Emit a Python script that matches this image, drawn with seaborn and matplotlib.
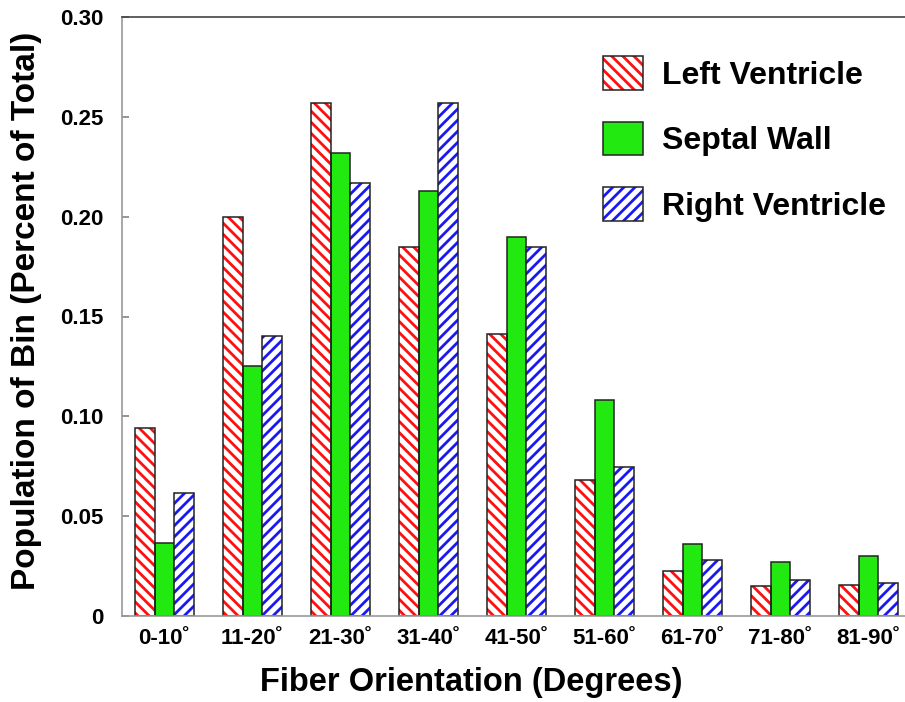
import matplotlib
matplotlib.use("Agg")
import matplotlib.pyplot as plt
import seaborn as sns
import pandas as pd
from matplotlib.patches import Rectangle, Patch

categories = ["0-10˚", "11-20˚", "21-30˚", "31-40˚", "41-50˚",
              "51-60˚", "61-70˚", "71-80˚", "81-90˚"]
left_ventricle = [0.094, 0.200, 0.257, 0.185, 0.141, 0.068, 0.0225, 0.015, 0.0155]
septal_wall = [0.0365, 0.125, 0.232, 0.213, 0.190, 0.108, 0.036, 0.027, 0.030]
right_ventricle = [0.0615, 0.140, 0.217, 0.257, 0.185, 0.0745, 0.028, 0.018, 0.0165]
series_names = ["Left Ventricle", "Septal Wall", "Right Ventricle"]
y_ticks = [0, 0.05, 0.10, 0.15, 0.20, 0.25, 0.30]
y_tick_labels = ["0", "0.05", "0.10", "0.15", "0.20", "0.25", "0.30"]

rows = []
for name, vals in zip(series_names, [left_ventricle, septal_wall, right_ventricle]):
    for c, v in zip(categories, vals):
        rows.append({"cat": c, "series": name, "value": v})
df = pd.DataFrame(rows)

sns.set_theme(style="white")
plt.rcParams["font.family"] = ["Liberation Sans", "DejaVu Sans"]
plt.rcParams["font.weight"] = "bold"
plt.rcParams["hatch.linewidth"] = 2.0
plt.rcParams["text.color"] = "black"
plt.rcParams["axes.labelcolor"] = "black"
plt.rcParams["xtick.color"] = "black"
plt.rcParams["ytick.color"] = "black"

RED = "#FF1010"
GREEN = "#22EA11"
BLUE = "#1A1AF0"
styles = [
    dict(face="white", hatch="\\\\\\", hcolor=RED),
    dict(face=GREEN, hatch=None, hcolor=None),
    dict(face="white", hatch="///", hcolor=BLUE),
]

fig = plt.figure(figsize=(9.05, 7.02), dpi=100)
ax = fig.add_axes([122 / 905, 1 - 616 / 702, 1 - 122 / 905, (616 - 17) / 702])

sns.barplot(data=df, x="cat", y="value", hue="series", order=categories,
            hue_order=series_names, palette=[GREEN] * 3, width=0.67, gap=0,
            saturation=1, legend=False, ax=ax, errorbar=None)

for cont, st in zip(ax.containers, styles):
    for p in cont.patches:
        if st["hatch"]:
            p.set_facecolor("white")
            p.set_hatch(st["hatch"])
            p.set_edgecolor(st["hcolor"])
            p.set_linewidth(0)
            ax.add_patch(Rectangle(p.get_xy(), p.get_width(), p.get_height(),
                                   fill=False, edgecolor="#222222", linewidth=1.1, zorder=p.get_zorder() + 0.1))
        else:
            p.set_facecolor(st["face"])
            p.set_edgecolor("#222222")
            p.set_linewidth(1.1)

ax.set_xlim(-0.483, 8.415)
ax.set_ylim(0, 0.30)
ax.set_yticks(y_ticks)
ax.set_yticklabels(y_tick_labels, fontsize=16, fontweight="bold")
ax.set_xticks(range(len(categories)))
ax.set_xticklabels(categories, fontsize=16, fontweight="bold")
ax.tick_params(axis="y", direction="in", length=5, color="#888888", labelcolor="black", pad=13, left=True)
ax.tick_params(axis="x", length=0, pad=9, labelcolor="black")
for s in ["left", "bottom"]:
    ax.spines[s].set_color("#999999")
    ax.spines[s].set_linewidth(1.2)
ax.spines["top"].set_color("#444444")
ax.spines["top"].set_linewidth(1.2)
ax.spines["right"].set_visible(False)

ax.set_xlabel("Fiber Orientation (Degrees)", fontsize=23.5, fontweight="bold", color="black")
ax.xaxis.set_label_coords((471 - 122) / 783, -(683 - 616) / 599, transform=ax.transAxes)
ax.xaxis.label.set_va("center")
ax.set_ylabel("Population of Bin (Percent of Total)", fontsize=24, fontweight="bold", color="black")
ax.yaxis.set_label_coords(-(122 - 27) / 783, (616 - 311) / 599, transform=ax.transAxes)
ax.yaxis.label.set_va("center")

handles = []
for st in styles:
    if st["hatch"]:
        h = (Patch(facecolor="white", hatch=st["hatch"], edgecolor=st["hcolor"], linewidth=0),
             Patch(fill=False, edgecolor="#222222", linewidth=1.1))
    else:
        h = Patch(facecolor=st["face"], edgecolor="#222222", linewidth=1.1)
    handles.append(h)

fig.legend(handles, series_names, loc="upper left",
           bbox_to_anchor=(603 / 905, 1 - 56 / 702), frameon=False,
           prop={"size": 23, "weight": "bold"}, handlelength=1.25, handleheight=1.25,
           handletextpad=0.6, labelspacing=0.97, borderpad=0, borderaxespad=0)

fig.savefig("out.png", dpi=100)
